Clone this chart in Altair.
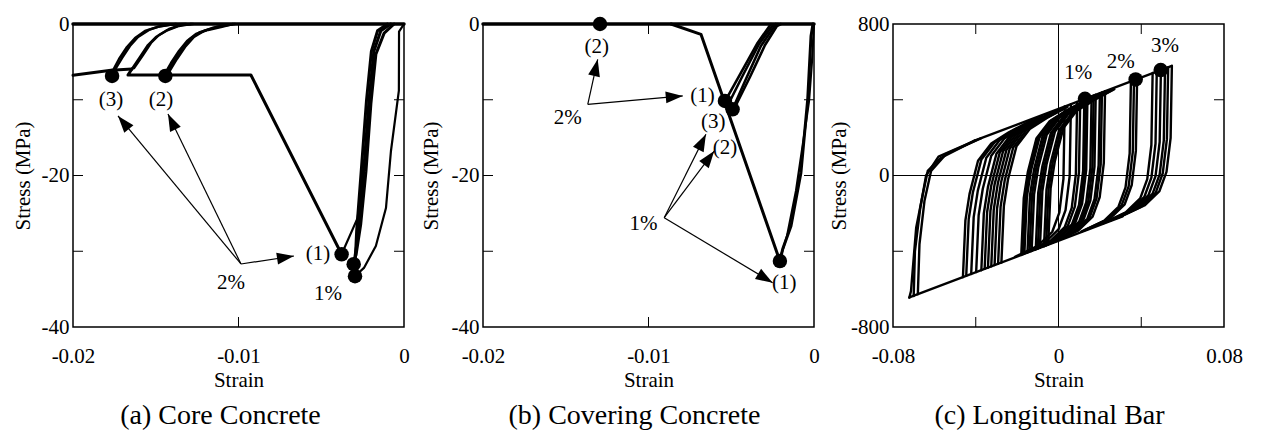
import altair as alt
import pandas as pd

FONT = "Times New Roman, Liberation Serif, serif"
W, H = 331, 303

# ---------------- Panel (a) Core Concrete ----------------
A_ZERO = [(-0.02, 0), (0, 0)]
A_OUTER = [(0, 0), (-0.0003, -1.0), (-0.00031, -8.8), (-0.00079, -16.8), (-0.00109, -24.3),
           (-0.0017, -29.3), (-0.00242, -32.2), (-0.00297, -33.3)]
A_BUNDLE_1 = [(-0.0008, 0), (-0.0014, -0.9), (-0.00182, -3.6), (-0.00212, -10.2), (-0.00242, -19.0),
              (-0.00273, -27.3), (-0.00303, -31.7)]
A_BUNDLE_2 = [(-0.0010, 0), (-0.0016, -0.9), (-0.00197, -3.6), (-0.00227, -10.2), (-0.00257, -19.0),
              (-0.00286, -27.3), (-0.00298, -33.0)]
A_BUNDLE_3 = [(-0.0006, 0), (-0.0012, -1.2), (-0.0017, -4.0), (-0.0020, -10.5), (-0.0023, -19.5),
              (-0.00262, -26.5), (-0.0029, -30.5)]
A_FROM_1 = [(-0.00377, -30.4), (-0.0028, -25.6), (-0.00245, -19.0)]
A_SOFT = [(-0.00377, -30.4), (-0.00925, -6.73), (-0.01668, -6.73), (-0.01644, -5.94)]
A_RESID = [(-0.02, -6.77), (-0.0177, -6.1), (-0.01644, -5.94)]
A_REL_1 = [(-0.0177, -6.6), (-0.01722, -4.62), (-0.01674, -3.04), (-0.01625, -1.85), (-0.01565, -0.92),
           (-0.01493, -0.4), (-0.01408, -0.07), (-0.01317, 0)]
A_REL_2 = [(-0.01758, -6.47), (-0.01704, -4.49), (-0.01656, -2.9), (-0.01607, -1.72), (-0.01541, -0.79),
           (-0.01468, -0.26), (-0.01378, 0)]
A_REL_3 = [(-0.01644, -5.94), (-0.01595, -4.36), (-0.01547, -2.77), (-0.01499, -1.72), (-0.01438, -0.92),
           (-0.0136, -0.26), (-0.01287, 0)]
A_REL_4 = [(-0.01631, -5.81), (-0.01577, -4.09), (-0.01529, -2.51), (-0.0148, -1.45), (-0.0142, -0.66),
           (-0.01348, -0.13), (-0.01275, 0)]
A_REL_5 = [(-0.0145, -6.73), (-0.01408, -5.15), (-0.0136, -3.56), (-0.01311, -2.24), (-0.01257, -1.32),
           (-0.01184, -0.79), (-0.01106, -0.4), (-0.01033, 0)]
A_REL_6 = [(-0.01432, -6.47), (-0.0139, -4.88), (-0.01341, -3.3), (-0.01293, -1.98), (-0.01233, -1.06),
           (-0.0116, -0.53), (-0.01082, -0.2), (-0.01021, 0)]
A_REL_7 = [(-0.0142, -6.34), (-0.01372, -4.62), (-0.01323, -3.04), (-0.01269, -1.72), (-0.01209, -0.92),
           (-0.01136, -0.4), (-0.01058, -0.07)]

A_MARK_X = [-0.01764, -0.01442, -0.00377, -0.00304, -0.00296]
A_MARK_Y = [-6.86, -6.86, -30.4, -31.7, -33.3]
A_TEXT = ["(3)", "(2)", "(1)", "1%", "2%"]
A_TEXT_X = [-0.0177, -0.01468, -0.0052, -0.00459, -0.01045]
A_TEXT_Y = [-10.03, -10.03, -30.36, -35.64, -34.19]
A_ARROW_X0 = [-0.00985, -0.00985, -0.00985]
A_ARROW_Y0 = [-31.68, -31.68, -31.68]
A_ARROW_X1 = [-0.01728, -0.01426, -0.00665]
A_ARROW_Y1 = [-12.14, -11.88, -30.63]
A_ARROW_ANG = [320.3, 334.1, 81.4]

# ---------------- Panel (b) Covering Concrete ----------------
B_ZERO = [(-0.02, 0), (0, 0)]
B_SOFT = [(-0.00864, 0), (-0.00683, -1.36), (-0.00206, -31.3)]
B_LOAD_1 = [(-0.00006, 0), (-0.00018, -1.58), (-0.00038, -9.94), (-0.00079, -19.63), (-0.00139, -26.67),
            (-0.00189, -29.7), (-0.00206, -31.3)]
B_LOAD_2 = [(0, 0), (-0.00012, -4.88), (-0.0003, -10.16), (-0.0006, -14.78), (-0.00109, -22.05),
            (-0.00163, -27.99), (-0.00206, -31.0)]
B_REL_1 = [(-0.00542, -10.39), (-0.00441, -6.43), (-0.0034, -2.47), (-0.0026, 0)]
B_REL_2 = [(-0.00492, -11.26), (-0.00411, -7.26), (-0.00321, -2.9), (-0.00242, -0.4), (-0.00218, 0)]
B_REL_3 = [(-0.0052, -10.69), (-0.00429, -6.73), (-0.00332, -2.64), (-0.00248, -0.13), (-0.0023, 0)]
B_REL_4 = [(-0.00477, -10.96), (-0.00387, -7.0), (-0.00296, -2.77), (-0.00224, -0.26), (-0.002, 0)]

B_MARK_X = [-0.01293, -0.00538, -0.00492, -0.00206]
B_MARK_Y = [0, -10.16, -11.27, -31.3]
B_TEXT = ["(2)", "(1)", "(3)", "(2)", "1%", "(1)", "2%"]
B_TEXT_X = [-0.01313, -0.00673, -0.00609, -0.00538, -0.0103, -0.0018, -0.01488]
B_TEXT_Y = [-3.1, -9.5, -13.0, -16.43, -26.44, -34.15, -12.37]
B_ARROW_X0 = [-0.01367, -0.01367, -0.00905, -0.00905, -0.00905]
B_ARROW_Y0 = [-10.6, -10.6, -25.57, -25.57, -25.57]
B_ARROW_X1 = [-0.01307, -0.00793, -0.00653, -0.00603, -0.0025]
B_ARROW_Y1 = [-4.66, -9.5, -14.56, -16.77, -34.15]
B_ARROW_ANG = [12.5, 85.0, 26.6, 36.9, 121.0]

# ---------------- Panel (c) Longitudinal Bar ----------------
C_UPPER = [(-0.0406, 184), (0.0548, 579)]
C_LOWER = [(-0.0721, -644), (0.031, -216)]
C_OUT_1 = [(-0.0721, -645), (-0.0713, -610), (-0.0688, -276), (-0.0656, -99), (-0.0632, 24),
           (-0.0567, 94), (-0.0406, 184)]
C_OUT_2 = [(-0.068, -627), (-0.0672, -362), (-0.0648, -135), (-0.0616, 24), (-0.0543, 114), (-0.0373, 197)]
C_OUT_3 = [(-0.070, -636), (-0.0694, -400), (-0.0668, -170), (-0.064, 0), (-0.058, 100), (-0.040, 186)]

C_DOWN = [
    [(0.0548, 579), (0.0542, 199), (0.0522, 19), (0.0488, -82), (0.0418, -157), (0.0308, -214)],
    [(0.053, 572), (0.0524, 192), (0.0504, 12), (0.047, -90), (0.040, -164), (0.029, -222)],
    [(0.0515, 566), (0.0509, 186), (0.0489, 6), (0.0455, -96), (0.0385, -170), (0.0275, -228)],
    [(0.0495, 557), (0.0489, 177), (0.0469, -3), (0.0435, -104), (0.0365, -178), (0.0255, -236)],
    [(0.0475, 549), (0.0469, 169), (0.0449, -11), (0.0415, -113), (0.0345, -187), (0.0235, -244)],
    [(0.0455, 541), (0.0449, 161), (0.0429, -19), (0.0395, -121), (0.0325, -195), (0.0215, -253)],
    [(0.038, 510), (0.0374, 130), (0.0354, -50), (0.032, -152), (0.025, -226), (0.014, -284)],
    [(0.0365, 503), (0.0359, 123), (0.0339, -57), (0.0305, -158), (0.0235, -233), (0.0125, -290)],
    [(0.035, 497), (0.0344, 117), (0.0324, -63), (0.029, -165), (0.022, -239), (0.011, -296)],
    [(0.0225, 445), (0.0219, 65), (0.0199, -115), (0.0165, -217), (0.0095, -291), (-0.0015, -348)],
    [(0.021, 439), (0.0204, 59), (0.0184, -121), (0.015, -223), (0.008, -297), (-0.003, -355)],
    [(0.020, 435), (0.0194, 55), (0.0174, -125), (0.014, -227), (0.007, -301), (-0.004, -359)],
    [(0.018, 427), (0.0174, 47), (0.0154, -133), (0.012, -235), (0.005, -309), (-0.006, -367)],
    [(0.017, 423), (0.0164, 43), (0.0144, -137), (0.011, -239), (0.004, -313), (-0.007, -371)],
    [(0.016, 418), (0.0154, 38), (0.0134, -142), (0.010, -244), (0.003, -318), (-0.008, -375)],
    [(0.014, 410), (0.0134, 30), (0.0114, -150), (0.008, -252), (0.001, -326), (-0.010, -384)],
    [(0.0132, 407), (0.0126, 27), (0.0106, -153), (0.0072, -255), (0.0002, -329), (-0.0108, -387)],
    [(0.0125, 404), (0.0119, 24), (0.0099, -156), (0.0065, -258), (-0.0005, -332), (-0.0115, -390)],
    [(0.0105, 396), (0.0099, 16), (0.0079, -164), (0.0045, -266), (-0.0025, -340), (-0.0135, -398)],
    [(0.009, 389), (0.0084, 9), (0.0064, -171), (0.003, -273), (-0.004, -347), (-0.015, -404)],
    [(0.006, 377), (0.0054, -3), (0.0034, -183), (0.0, -285), (-0.007, -359), (-0.018, -417)],
    [(0.003, 364), (0.0024, -16), (0.0004, -196), (-0.003, -297), (-0.010, -372), (-0.021, -429)],
]
C_UP = [
    [(-0.0462, -537), (-0.045, -237), (-0.043, -97), (-0.0389, 78), (-0.0325, 169), (-0.0242, 227), (-0.0142, 285)],
    [(-0.0446, -530), (-0.0434, -230), (-0.0414, -90), (-0.0373, 84), (-0.0309, 176), (-0.0226, 233), (-0.0126, 292)],
    [(-0.0422, -520), (-0.041, -220), (-0.039, -80), (-0.0349, 94), (-0.0285, 186), (-0.0202, 243), (-0.0102, 302)],
    [(-0.0398, -510), (-0.0386, -210), (-0.0366, -70), (-0.0325, 104), (-0.0261, 196), (-0.0178, 253), (-0.0078, 312)],
    [(-0.0373, -500), (-0.0361, -200), (-0.0341, -60), (-0.030, 115), (-0.0236, 206), (-0.0153, 264), (-0.0053, 322)],
    [(-0.0357, -493), (-0.0345, -193), (-0.0325, -53), (-0.0284, 121), (-0.022, 213), (-0.0137, 270), (-0.0037, 329)],
    [(-0.0341, -487), (-0.0329, -187), (-0.0309, -47), (-0.0268, 128), (-0.0204, 219), (-0.0121, 277), (-0.0021, 335)],
    [(-0.0325, -480), (-0.0313, -180), (-0.0293, -40), (-0.0252, 134), (-0.0188, 226), (-0.0105, 283), (-0.0005, 342)],
    [(-0.0309, -473), (-0.0297, -173), (-0.0277, -33), (-0.0236, 141), (-0.0172, 233), (-0.0089, 290), (0.0011, 349)],
    [(-0.0292, -466), (-0.028, -166), (-0.026, -26), (-0.0219, 148), (-0.0155, 240), (-0.0072, 297), (0.0028, 356)],
    [(-0.0276, -460), (-0.0264, -160), (-0.0244, -20), (-0.0203, 155), (-0.0139, 246), (-0.0056, 304), (0.0044, 362)],
    [(-0.018, -420), (-0.0168, -120), (-0.0148, 20), (-0.0107, 195), (-0.0043, 286), (0.004, 344), (0.014, 402)],
    [(-0.0172, -416), (-0.016, -116), (-0.014, 24), (-0.0099, 198), (-0.0035, 290), (0.0048, 347), (0.0148, 405)],
    [(-0.0165, -414), (-0.0153, -114), (-0.0133, 26), (-0.0092, 201), (-0.0028, 292), (0.0055, 350), (0.0155, 408)],
    [(-0.015, -407), (-0.0138, -107), (-0.0118, 33), (-0.0077, 207), (-0.0013, 299), (0.007, 356), (0.017, 415)],
    [(-0.014, -403), (-0.0128, -103), (-0.0108, 37), (-0.0067, 211), (-0.0003, 303), (0.008, 360), (0.018, 419)],
    [(-0.013, -399), (-0.0118, -99), (-0.0098, 41), (-0.0057, 215), (0.0007, 307), (0.009, 364), (0.019, 423)],
    [(-0.011, -391), (-0.0098, -91), (-0.0078, 49), (-0.0037, 224), (0.0027, 315), (0.011, 373), (0.021, 431)],
    [(-0.010, -387), (-0.0088, -87), (-0.0068, 53), (-0.0027, 228), (0.0037, 319), (0.012, 377), (0.022, 435)],
    [(-0.009, -382), (-0.0078, -82), (-0.0058, 58), (-0.0017, 232), (0.0047, 323), (0.013, 381), (0.023, 439)],
    [(-0.007, -374), (-0.0058, -74), (-0.0038, 66), (0.0003, 240), (0.0067, 332), (0.015, 389), (0.025, 448)],
    [(-0.006, -370), (-0.0048, -70), (-0.0028, 70), (0.0013, 244), (0.0077, 336), (0.016, 393), (0.026, 452)],
    [(-0.005, -366), (-0.0038, -66), (-0.0018, 74), (0.0023, 249), (0.0087, 340), (0.017, 398), (0.027, 456)],
]
C_MARK_X = [0.0128, 0.0373, 0.0494]
C_MARK_Y = [405, 507, 557]
C_TEXT = ["1%", "2%", "3%"]
C_TEXT_X = [0.0096, 0.0301, 0.0515]
C_TEXT_Y = [540, 601, 684]

ARROW_PATH = "M0,0L-0.7,2L0.7,2Z"
MINUS_FIX = "replace(datum.label, '\u2212', '-')"
TICK_FS = 21
NOTE_FS = 21
CAPTION_FS = 28


def curves_df(curves, width):
    rows = []
    for cid, pts in curves.items():
        for i, (x, y) in enumerate(pts):
            rows.append({"id": cid, "ord": i, "x": x, "y": y, "w": width})
    return pd.DataFrame(rows)


def panel(xdom, ydom, xvals, yvals, xfmt, xticks, yticks, curve_frames, mx, my, tt, tx, ty,
          arrows, caption, cap_dx, ytitle_x, cross=False):
    xs = alt.Scale(domain=xdom, nice=False, zero=False)
    ys = alt.Scale(domain=ydom, nice=False, zero=False)
    xaxis = alt.Axis(values=xvals, format=xfmt, labelExpr=MINUS_FIX, title="Strain",
                     ticks=False, tickSize=0, domain=False, grid=False, labelFlush=False,
                     labelOverlap=False, labelFont=FONT, labelFontSize=TICK_FS, labelColor="black",
                     labelBaseline="alphabetic", labelPadding=35, titleFont=FONT, titleFontSize=TICK_FS,
                     titleFontWeight="normal", titleColor="black", titleX=W / 2, titleY=59,
                     titleBaseline="alphabetic", titleAlign="center")
    yaxis = alt.Axis(values=yvals, format="d", labelExpr=MINUS_FIX, title="Stress (MPa)",
                     ticks=False, tickSize=0, domain=False, grid=False, labelFlush=False,
                     labelOverlap=False, labelFont=FONT, labelFontSize=TICK_FS, labelColor="black",
                     labelPadding=4, titleFont=FONT, titleFontSize=TICK_FS, titleFontWeight="normal",
                     titleColor="black", titleAngle=270, titleX=ytitle_x, titleY=H / 2,
                     titleBaseline="middle", titleAlign="center")

    def X(field):
        return alt.X(field, scale=xs, axis=xaxis)

    def Y(field):
        return alt.Y(field, scale=ys, axis=yaxis)

    df = pd.concat(curve_frames, ignore_index=True)
    layers = []
    if cross:
        layers.append(alt.Chart(pd.DataFrame({"v": [0]})).mark_rule(color="black", strokeWidth=1)
                      .encode(x=X("v:Q")))
        layers.append(alt.Chart(pd.DataFrame({"v": [0]})).mark_rule(color="black", strokeWidth=1)
                      .encode(y=Y("v:Q")))
    layers.append(alt.Chart(df).mark_line(color="black", strokeCap="round", strokeJoin="round").encode(
        x=X("x:Q"), y=Y("y:Q"),
        detail="id:N", order="ord:Q",
        strokeWidth=alt.StrokeWidth("w:Q", scale=None),
    ))
    tdx = pd.DataFrame({"v": xticks})
    tdy = pd.DataFrame({"v": yticks})
    tick_style = dict(color="black", strokeWidth=1)
    layers.append(alt.Chart(tdx).mark_rule(**tick_style).encode(
        x=X("v:Q"), y=alt.value(H), y2=alt.value(H - 10)))
    layers.append(alt.Chart(tdx).mark_rule(**tick_style).encode(
        x=X("v:Q"), y=alt.value(0), y2=alt.value(10)))
    layers.append(alt.Chart(tdy).mark_rule(**tick_style).encode(
        y=Y("v:Q"), x=alt.value(0), x2=alt.value(10)))
    layers.append(alt.Chart(tdy).mark_rule(**tick_style).encode(
        y=Y("v:Q"), x=alt.value(W), x2=alt.value(W - 10)))
    # markers
    layers.append(alt.Chart(pd.DataFrame({"x": mx, "y": my})).mark_point(
        filled=True, shape="circle", size=210, color="black", opacity=1).encode(
        x=X("x:Q"), y=Y("y:Q")))
    # arrows
    if arrows is not None:
        x0, y0, x1, y1, ang = arrows
        adf = pd.DataFrame({"x0": x0, "y0": y0, "x1": x1, "y1": y1, "ang": ang})
        layers.append(alt.Chart(adf).mark_rule(color="black", strokeWidth=1.2).encode(
            x=X("x0:Q"), y=Y("y0:Q"), x2="x1:Q", y2="y1:Q"))
        layers.append(alt.Chart(adf).mark_point(shape=ARROW_PATH, filled=True, size=289,
                                                color="black", opacity=1).encode(
            x=X("x1:Q"), y=Y("y1:Q"), angle=alt.Angle("ang:Q", scale=None)))
    # labels
    layers.append(alt.Chart(pd.DataFrame({"t": tt, "x": tx, "y": ty})).mark_text(
        font=FONT, fontSize=NOTE_FS, color="black", align="center", baseline="middle").encode(
        x=X("x:Q"), y=Y("y:Q"), text="t:N"))
    return alt.layer(*layers).properties(
        width=W, height=H,
        title=alt.TitleParams(text=caption, orient="bottom", anchor="middle", font=FONT,
                              fontSize=CAPTION_FS, fontWeight="normal", color="black", offset=12,
                              dx=cap_dx),
    )


a_frames = [
    curves_df({"zero": A_ZERO}, 3.5),
    curves_df({"outer": A_OUTER, "from1": A_FROM_1}, 2.2),
    curves_df({"b1": A_BUNDLE_1, "b2": A_BUNDLE_2, "b3": A_BUNDLE_3, "soft": A_SOFT,
               "resid": A_RESID}, 3),
    curves_df({"r1": A_REL_1, "r2": A_REL_2, "r3": A_REL_3, "r4": A_REL_4,
               "r5": A_REL_5, "r6": A_REL_6, "r7": A_REL_7}, 2.4),
]
pa = panel([-0.02, 0], [-40, 0], [-0.02, -0.01, 0], [0, -20, -40], ".2~f", [-0.01], [-10, -20, -30],
           a_frames, A_MARK_X, A_MARK_Y, A_TEXT, A_TEXT_X, A_TEXT_Y,
           (A_ARROW_X0, A_ARROW_Y0, A_ARROW_X1, A_ARROW_Y1, A_ARROW_ANG),
           "(a) Core Concrete", -18, -50)

b_frames = [
    curves_df({"zero": B_ZERO}, 3.5),
    curves_df({"soft": B_SOFT, "l1": B_LOAD_1}, 3),
    curves_df({"l2": B_LOAD_2}, 2.2),
    curves_df({"r1": B_REL_1, "r2": B_REL_2, "r3": B_REL_3, "r4": B_REL_4}, 2.6),
]
pb = panel([-0.02, 0], [-40, 0], [-0.02, -0.01, 0], [0, -20, -40], ".2~f", [-0.01], [-10, -20, -30],
           b_frames, B_MARK_X, B_MARK_Y, B_TEXT, B_TEXT_X, B_TEXT_Y,
           (B_ARROW_X0, B_ARROW_Y0, B_ARROW_X1, B_ARROW_Y1, B_ARROW_ANG),
           "(b) Covering Concrete", -14, -52)

c_curves = {"upper": C_UPPER, "lower": C_LOWER, "o1": C_OUT_1, "o2": C_OUT_2, "o3": C_OUT_3}
for i, pts in enumerate(C_DOWN):
    c_curves[f"d{i}"] = pts
for i, pts in enumerate(C_UP):
    c_curves[f"u{i}"] = pts
c_frames = [curves_df(c_curves, 2.4)]
pc = panel([-0.08, 0.08], [-800, 800], [-0.08, 0, 0.08], [800, 0, -800], ".2~f", [-0.04, 0.04],
           [-400, 400], c_frames, C_MARK_X, C_MARK_Y, C_TEXT, C_TEXT_X, C_TEXT_Y, None,
           "(c) Longitudinal Bar", -9, -54, cross=True)

chart = alt.hconcat(pa, pb, pc, spacing=79, bounds="flush").properties(
    padding={"left": 11, "top": 12, "right": 5, "bottom": 5},
    background="white",
).configure_view(stroke="black", strokeWidth=1.5)

chart.save("out.html", embed_options={"renderer": "svg", "actions": False})
